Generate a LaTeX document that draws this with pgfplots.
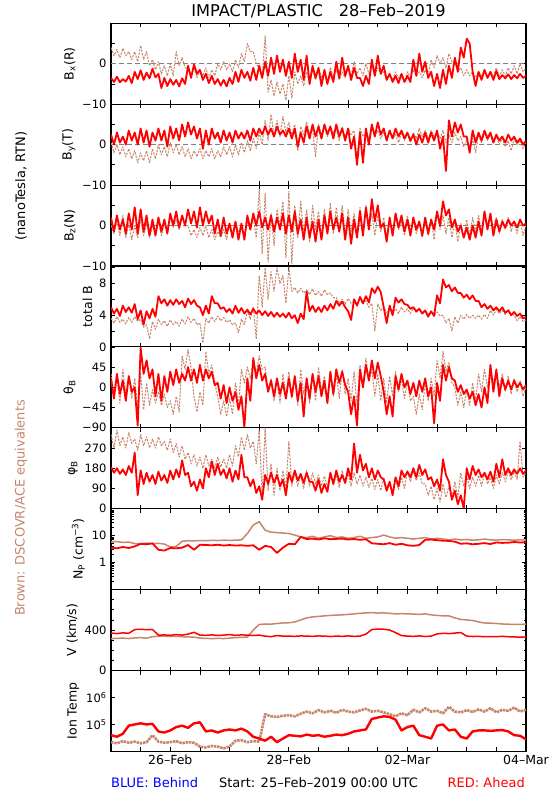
\documentclass[border=0pt]{standalone}
\usepackage{fontspec}
\setmainfont{DejaVu Sans}
\usepackage{pgfplots}
\pgfplotsset{compat=1.18}
\usepackage{pgfplotstable}
\definecolor{brn}{RGB}{198,134,108}
\definecolor{zgray}{RGB}{128,128,128}

\pgfplotstableread{
t r b
0.00 -3.5 4.0
0.05 -4.5 2.0
0.10 -3.2 3.5
0.15 -4.6 1.5
0.20 -3.8 3.8
0.25 -4.4 2.0
0.30 -3.0 3.0
0.35 -4.8 1.0
0.40 -2.0 3.0
0.45 -3.8 0.5
0.50 -1.6 4.5
0.55 -4.0 1.0
0.60 -2.2 3.0
0.65 -3.6 -0.5
0.70 -1.2 1.0
0.75 -3.4 -1.5
0.80 -2.5 0.5
0.85 -6.0 -2.5
0.90 -3.5 -0.5
0.95 -5.5 -3.0
1.00 -3.8 0.0
1.05 -5.2 -3.0
1.10 -4.0 3.0
1.15 -5.6 -0.5
1.20 -3.6 1.5
1.25 -5.0 -1.0
1.30 -0.5 -1.0
1.35 -3.5 -3.0
1.40 -0.2 -1.0
1.45 -2.5 -3.5
1.50 -1.5 -1.5
1.55 -4.0 -3.0
1.60 -2.5 -1.0
1.65 -4.8 -3.5
1.70 -3.0 -1.5
1.75 -5.0 -3.0
1.80 -3.8 0.0
1.85 -5.4 -1.5
1.90 -4.0 0.5
1.95 -5.6 -1.5
2.00 -3.5 0.0
2.05 -5.0 -2.0
2.10 -2.0 1.0
2.15 -4.5 -1.0
2.20 -1.5 2.5
2.25 -3.5 0.5
2.30 -2.0 5.0
2.35 -4.2 3.0
2.40 -1.0 3.0
2.45 -4.0 0.0
2.50 -0.5 -1.0
2.55 -3.5 -3.5
2.60 0.5 7.0
2.65 -3.0 -7.0
2.70 1.5 -4.0
2.75 -2.5 -8.0
2.80 2.0 -4.5
2.85 -2.0 -7.5
2.90 1.0 -5.0
2.95 -3.0 -9.0
3.00 0.5 -3.0
3.05 -3.5 -8.5
3.10 2.5 -2.0
3.15 -2.0 -5.0
3.20 1.0 -3.0
3.25 -4.0 -5.5
3.30 2.0 -2.0
3.35 -5.0 -5.0
3.40 -0.5 -1.5
3.45 -3.5 -4.0
3.50 -1.0 -1.0
3.55 -5.5 -3.5
3.60 -1.5 -2.0
3.65 -5.0 -4.5
3.70 -2.0 -1.0
3.75 -4.5 -3.0
3.80 0.5 -1.5
3.85 -3.5 -4.0
3.90 1.5 -2.0
3.95 -3.0 -3.5
4.00 -0.5 -0.5
4.05 -4.0 -3.0
4.10 -1.0 0.5
4.15 -3.5 -2.5
4.20 -3.5 -1.0
4.25 -5.5 -3.0
4.30 -3.0 0.0
4.35 -5.0 -2.5
4.40 1.0 -0.5
4.45 -3.0 -3.0
4.50 2.0 -1.0
4.55 -2.5 -2.5
4.60 -0.5 -2.0
4.65 -4.0 -4.0
4.70 -2.5 -2.5
4.75 -4.5 -4.0
4.80 -3.0 -2.0
4.85 -4.8 -3.5
4.90 -2.5 -2.5
4.95 -4.5 -4.5
5.00 -3.0 -2.0
5.05 -4.5 -3.5
5.10 1.0 -1.5
5.15 -3.0 -3.0
5.20 2.5 -2.0
5.25 -2.0 -3.5
5.30 0.5 -1.5
5.35 -3.5 -3.0
5.40 -2.0 1.0
5.45 -5.5 -1.0
5.50 -2.5 2.0
5.55 -6.0 0.0
5.60 -1.5 1.5
5.65 -5.0 -1.0
5.70 -0.5 2.5
5.75 -3.5 0.5
5.80 1.5 0.5
5.85 -2.0 -2.0
5.90 4.0 -1.0
5.95 1.5 -3.0
6.00 6.2 -1.5
6.05 5.0 -3.0
6.10 -2.0 -2.0
6.15 -5.5 -3.5
6.20 -2.0 -2.0
6.25 -4.0 -3.0
6.30 -1.5 -1.5
6.35 -3.5 -3.5
6.40 -2.0 -2.0
6.45 -4.0 -3.0
6.50 -1.8 -1.0
6.55 -3.8 -3.0
6.60 -2.8 -1.5
6.65 -3.6 -3.0
6.70 -2.6 -1.0
6.75 -3.8 -2.5
6.80 -2.8 -0.5
6.85 -3.6 -2.5
6.90 -2.5 0.0
6.95 -3.5 -2.0
7.00 -3.0 -1.0
}\tBx

\pgfplotstableread{
t r b
0.00 2.5 0.5
0.05 0.0 -2.0
0.10 3.0 0.0
0.15 0.5 -2.5
0.20 2.0 -0.5
0.25 0.0 -3.0
0.30 3.5 -1.0
0.35 1.0 -3.5
0.40 3.0 -1.5
0.45 0.0 -4.5
0.50 4.0 -2.0
0.55 0.5 -4.0
0.60 3.5 -1.5
0.65 -0.5 -4.5
0.70 3.0 -1.0
0.75 1.0 -3.5
0.80 4.0 0.0
0.85 1.0 -2.5
0.90 3.5 -0.5
0.95 -0.5 -3.0
1.00 4.5 0.5
1.05 1.5 -2.0
1.10 4.0 0.0
1.15 1.0 -2.5
1.20 5.0 -0.5
1.25 2.0 -3.0
1.30 5.5 -1.0
1.35 2.5 -3.5
1.40 4.5 -1.5
1.45 1.5 -3.0
1.50 4.0 -1.0
1.55 -1.0 -3.5
1.60 3.5 -1.5
1.65 0.0 -3.0
1.70 4.0 -1.0
1.75 1.5 -3.5
1.80 3.0 -1.5
1.85 0.5 -3.0
1.90 3.5 -0.5
1.95 1.0 -2.5
2.00 3.0 -0.5
2.05 0.5 -3.0
2.10 3.5 0.0
2.15 1.5 -2.5
2.20 3.0 0.5
2.25 1.5 -2.0
2.30 3.5 1.0
2.35 1.0 -1.5
2.40 4.0 1.5
2.45 2.0 -1.0
2.50 4.0 3.0
2.55 2.5 0.0
2.60 4.5 6.0
2.65 2.5 1.0
2.70 4.0 7.5
2.75 2.0 2.0
2.80 4.5 6.0
2.85 2.5 2.0
2.90 3.5 7.0
2.95 2.0 3.0
3.00 4.0 5.5
3.05 1.5 2.5
3.10 4.0 5.0
3.15 -0.5 -1.5
3.20 3.0 4.5
3.25 0.5 2.5
3.30 4.5 5.5
3.35 1.5 3.0
3.40 5.0 4.0
3.45 2.0 -3.0
3.50 4.5 5.0
3.55 1.5 2.5
3.60 5.0 4.5
3.65 2.5 2.0
3.70 4.5 4.5
3.75 1.5 3.0
3.80 5.0 3.5
3.85 2.0 1.0
3.90 4.0 4.5
3.95 1.0 2.0
4.00 4.0 4.0
4.05 -1.0 2.5
4.10 2.0 3.5
4.15 -5.0 -3.5
4.20 3.0 4.0
4.25 -4.5 2.0
4.30 4.0 3.0
4.35 0.0 1.5
4.40 5.0 4.5
4.45 2.0 2.0
4.50 5.5 3.5
4.55 2.5 1.5
4.60 4.0 3.0
4.65 1.0 1.0
4.70 3.5 3.5
4.75 1.5 1.5
4.80 4.0 2.5
4.85 2.0 0.5
4.90 3.5 3.0
4.95 1.5 1.0
5.00 3.0 2.5
5.05 1.0 0.5
5.10 2.5 3.0
5.15 0.0 1.5
5.20 2.5 4.0
5.25 0.5 2.0
5.30 3.0 3.5
5.35 0.5 1.5
5.40 3.0 3.5
5.45 1.0 2.0
5.50 3.5 3.0
5.55 -1.0 1.5
5.60 2.0 3.5
5.65 -6.5 0.5
5.70 6.0 2.5
5.75 2.0 0.5
5.80 5.5 3.0
5.85 3.0 1.0
5.90 5.0 2.0
5.95 2.0 -0.5
6.00 2.0 1.0
6.05 -2.0 -1.5
6.10 3.5 1.5
6.15 0.5 -2.0
6.20 3.0 2.5
6.25 1.0 0.5
6.30 3.5 3.0
6.35 1.5 1.0
6.40 3.0 2.5
6.45 0.5 0.5
6.50 2.5 2.0
6.55 1.0 0.0
6.60 2.0 1.5
6.65 0.5 -0.5
6.70 2.5 1.0
6.75 1.0 -1.5
6.80 2.0 1.5
6.85 0.5 0.0
6.90 1.5 1.0
6.95 0.0 -1.0
7.00 1.0 0.5
}\tBy

\pgfplotstableread{
t r b
0.00 2.0 0.0
0.05 -1.5 -2.0
0.10 2.5 1.0
0.15 -1.0 -2.5
0.20 1.5 2.5
0.25 -2.0 -3.0
0.30 3.0 0.5
0.35 -1.0 -3.5
0.40 4.5 0.0
0.45 -2.0 -3.0
0.50 4.0 1.5
0.55 -1.5 -2.5
0.60 2.5 0.5
0.65 -2.5 -3.0
0.70 1.5 0.0
0.75 -2.5 -2.0
0.80 2.0 1.0
0.85 -1.5 -2.5
0.90 1.5 0.5
0.95 -2.0 -1.5
1.00 3.0 2.0
1.05 0.0 -0.5
1.10 3.5 1.5
1.15 -0.5 -1.0
1.20 2.5 2.0
1.25 0.0 0.0
1.30 4.0 0.0
1.35 0.5 -2.5
1.40 3.5 -1.0
1.45 -0.5 -3.0
1.50 4.5 -0.5
1.55 0.0 -2.5
1.60 3.5 0.0
1.65 0.5 -3.0
1.70 2.5 -1.0
1.75 -2.0 -3.5
1.80 1.5 -1.5
1.85 -2.5 -3.0
1.90 2.0 -1.0
1.95 -2.0 -3.5
2.00 0.5 0.5
2.05 -3.0 -2.0
2.10 1.0 1.0
2.15 -3.5 -1.5
2.20 0.5 0.0
2.25 -3.5 -2.5
2.30 2.5 1.0
2.35 -1.0 -1.0
2.40 3.0 2.0
2.45 0.0 -3.0
2.50 3.5 9.0
2.55 -0.5 -7.0
2.60 2.0 8.0
2.65 -1.0 -9.0
2.70 2.5 3.0
2.75 -1.5 -5.0
2.80 2.0 4.0
2.85 -1.0 0.0
2.90 3.0 6.0
2.95 -2.0 -8.0
3.00 2.5 8.5
3.05 -1.5 -9.5
3.10 3.5 5.0
3.15 -2.0 -3.0
3.20 1.5 6.0
3.25 -3.5 -2.0
3.30 2.0 4.0
3.35 -3.0 -4.0
3.40 1.0 5.0
3.45 -4.0 -1.0
3.50 1.5 3.5
3.55 -3.5 -3.0
3.60 2.5 4.0
3.65 -2.0 -1.5
3.70 3.5 5.5
3.75 -1.0 -2.0
3.80 2.0 4.5
3.85 -1.5 -1.0
3.90 3.0 5.0
3.95 -3.5 -3.0
4.00 2.0 4.0
4.05 -4.5 -1.5
4.10 1.5 3.0
4.15 -3.0 -2.0
4.20 3.5 4.5
4.25 -2.5 -1.5
4.30 4.5 5.0
4.35 -1.0 -0.5
4.40 6.5 3.0
4.45 1.0 -2.5
4.50 5.0 2.5
4.55 -0.5 -1.5
4.60 0.5 2.0
4.65 -4.0 -3.0
4.70 2.0 1.5
4.75 -2.5 -2.0
4.80 3.0 2.0
4.85 -0.5 -1.0
4.90 2.5 1.0
4.95 -1.5 -2.5
5.00 1.5 2.5
5.05 -2.5 -1.5
5.10 2.0 1.0
5.15 -1.0 -2.0
5.20 1.0 0.5
5.25 -2.5 -3.0
5.30 2.0 1.0
5.35 -2.0 -2.5
5.40 1.5 1.5
5.45 -1.0 -3.5
5.50 3.5 3.0
5.55 0.0 -1.0
5.60 6.0 2.5
5.65 2.5 -2.0
5.70 4.0 2.0
5.75 -0.5 -3.0
5.80 1.5 1.0
5.85 -1.5 -4.0
5.90 0.0 0.5
5.95 -3.0 -3.0
6.00 -0.5 1.5
6.05 -3.5 -2.5
6.10 0.0 2.0
6.15 -3.0 -1.5
6.20 1.0 2.5
6.25 -2.5 -2.0
6.30 3.5 3.0
6.35 -1.0 -1.0
6.40 3.0 2.5
6.45 -2.5 -0.5
6.50 1.5 2.0
6.55 -1.5 -2.0
6.60 1.0 1.5
6.65 -0.5 -1.0
6.70 1.5 2.0
6.75 0.0 -1.5
6.80 1.0 1.0
6.85 -0.5 -2.0
6.90 1.5 1.5
6.95 0.0 -2.5
7.00 0.5 0.0
}\tBz

\pgfplotstableread{
t r b
0.00 5.0 3.6
0.05 4.2 3.0
0.10 4.8 3.8
0.15 3.9 3.1
0.20 5.2 3.5
0.25 4.4 2.9
0.30 5.0 3.7
0.35 4.3 3.1
0.40 5.4 3.8
0.45 3.5 3.2
0.50 4.6 3.5
0.55 2.8 2.5
0.60 4.5 2.8
0.65 3.6 1.0
0.70 4.8 3.2
0.75 3.8 2.2
0.80 6.4 3.5
0.85 5.5 2.8
0.90 6.0 3.3
0.95 5.2 2.6
1.00 5.9 3.4
1.05 5.3 2.8
1.10 6.0 3.2
1.15 5.4 2.6
1.20 5.8 3.5
1.25 5.0 2.9
1.30 6.1 3.8
1.35 5.4 3.1
1.40 5.9 3.6
1.45 5.2 2.8
1.50 5.0 3.0
1.55 4.0 0.5
1.60 5.2 3.6
1.65 4.2 3.0
1.70 6.4 3.8
1.75 5.5 3.2
1.80 5.5 3.9
1.85 4.8 3.3
1.90 5.0 3.7
1.95 4.4 3.1
2.00 4.8 3.4
2.05 4.2 2.8
2.10 5.2 3.0
2.15 4.3 1.8
2.20 4.9 3.5
2.25 4.2 2.8
2.30 4.7 4.5
2.35 4.1 3.5
2.40 4.8 5.0
2.45 4.2 1.0
2.50 4.6 9.0
2.55 4.0 5.0
2.60 4.5 10.0
2.65 3.9 6.0
2.70 4.4 9.5
2.75 3.8 7.0
2.80 4.3 10.0
2.85 3.8 8.0
2.90 4.2 9.0
2.95 3.7 5.5
3.00 4.3 10.0
3.05 3.6 7.0
3.10 4.0 7.5
3.15 3.0 6.8
3.20 4.2 7.4
3.25 3.5 6.8
3.30 7.0 7.2
3.35 4.5 6.6
3.40 5.2 7.3
3.45 4.4 6.5
3.50 5.0 7.0
3.55 4.4 6.4
3.60 5.2 7.2
3.65 4.6 6.6
3.70 5.4 6.8
3.75 4.8 6.2
3.80 5.8 6.2
3.85 5.2 5.5
3.90 5.7 6.0
3.95 5.0 5.4
4.00 4.5 6.1
4.05 3.4 5.5
4.10 6.0 5.8
4.15 5.2 5.2
4.20 6.3 6.0
4.25 5.5 5.4
4.30 6.4 5.8
4.35 5.6 5.0
4.40 7.4 5.5
4.45 6.8 2.0
4.50 7.6 5.4
4.55 6.9 4.6
4.60 5.0 5.0
4.65 3.0 4.3
4.70 5.2 4.9
4.75 4.0 4.3
4.80 6.2 4.8
4.85 5.6 4.2
4.90 6.0 5.0
4.95 5.4 4.4
5.00 5.3 4.8
5.05 4.8 4.2
5.10 5.0 4.9
5.15 4.5 4.3
5.20 4.8 4.8
5.25 4.2 4.3
5.30 4.6 4.6
5.35 3.8 4.1
5.40 4.5 4.5
5.45 3.9 4.0
5.50 6.5 4.4
5.55 5.5 3.9
5.60 8.5 4.0
5.65 7.5 3.0
5.70 7.8 3.6
5.75 7.0 2.0
5.80 7.5 3.8
5.85 6.8 3.0
5.90 6.8 4.0
5.95 6.2 3.5
6.00 6.6 4.1
6.05 6.0 3.6
6.10 6.5 4.0
6.15 5.8 3.6
6.20 5.8 4.0
6.25 5.0 3.5
6.30 5.4 4.1
6.35 4.8 3.6
6.40 5.2 4.6
6.45 4.6 4.0
6.50 5.0 4.7
6.55 4.5 4.2
6.60 5.0 4.6
6.65 4.3 4.1
6.70 4.6 4.7
6.75 4.0 4.2
6.80 4.4 4.0
6.85 3.9 3.3
6.90 4.2 3.8
6.95 3.6 3.2
7.00 3.8 3.4
}\tBt

\pgfplotstableread{
t r b
0.00 20 30
0.05 -25 -20
0.10 30 20
0.15 -15 -35
0.20 15 40
0.25 -30 -15
0.30 25 25
0.35 -10 -25
0.40 0 20
0.45 -85 -45
0.50 88 30
0.55 30 -50
0.60 60 10
0.65 20 -40
0.70 40 -5
0.75 -20 -35
0.80 30 -10
0.85 -30 -40
0.90 25 -15
0.95 -10 -45
1.00 35 -30
1.05 5 -60
1.10 40 -20
1.15 10 -55
1.20 30 70
1.25 15 40
1.30 45 85
1.35 15 45
1.40 40 -20
1.45 10 -55
1.50 50 -10
1.55 15 -40
1.60 40 80
1.65 20 30
1.70 35 50
1.75 5 10
1.80 10 -20
1.85 -25 -60
1.90 5 -30
1.95 -35 -65
2.00 0 -25
2.05 -30 -60
2.10 -10 10
2.15 -50 -40
2.20 -20 40
2.25 -90 10
2.30 20 45
2.35 -30 20
2.40 65 60
2.45 20 30
2.50 50 70
2.55 15 40
2.60 30 45
2.65 -10 -10
2.70 15 20
2.75 -20 -30
2.80 20 15
2.85 -15 -35
2.90 10 30
2.95 -25 -20
3.00 20 35
3.05 -20 -25
3.10 25 25
3.15 -30 -40
3.20 10 40
3.25 -65 -15
3.30 20 20
3.35 -25 -35
3.40 30 30
3.45 -10 -30
3.50 25 45
3.55 -20 -10
3.60 15 25
3.65 -35 -30
3.70 35 35
3.75 -15 -20
3.80 40 30
3.85 10 -25
3.90 35 40
3.95 5 -15
4.00 -10 20
4.05 -60 -30
4.10 -20 35
4.15 -85 -40
4.20 40 50
4.25 0 0
4.30 50 65
4.35 15 15
4.40 60 40
4.45 20 -20
4.50 55 30
4.55 25 -30
4.60 -10 20
4.65 -60 -35
4.70 -20 25
4.75 -65 -20
4.80 25 35
4.85 -5 -10
4.90 30 20
4.95 0 -25
5.00 15 15
5.05 -15 -30
5.10 10 -20
5.15 -20 -60
5.20 15 -15
5.25 -10 -50
5.30 20 10
5.35 -20 -30
5.40 0 20
5.45 -80 -20
5.50 10 60
5.55 -30 20
5.60 50 80
5.65 15 35
5.70 45 55
5.75 20 10
5.80 15 0
5.85 -10 -40
5.90 5 -10
5.95 -15 -45
6.00 -5 -5
6.05 -25 -40
6.10 -10 10
6.15 -40 -30
6.20 -15 30
6.25 -45 -10
6.30 0 40
6.35 -35 0
6.40 50 45
6.45 -10 10
6.50 40 35
6.55 -20 0
6.60 20 30
6.65 -5 -10
6.70 15 25
6.75 -5 -15
6.80 15 20
6.85 0 -10
6.90 10 15
6.95 -5 -20
7.00 5 0
}\tTh

\pgfplotstableread{
t r b
0.00 185 330
0.05 160 270
0.10 180 350
0.15 155 280
0.20 175 320
0.25 150 270
0.30 190 340
0.35 160 290
0.40 250 310
0.45 60 260
0.50 170 330
0.55 110 280
0.60 160 320
0.65 120 270
0.70 150 310
0.75 110 270
0.80 165 320
0.85 125 280
0.90 150 300
0.95 115 260
1.00 170 310
1.05 130 250
1.10 175 290
1.15 140 230
1.20 215 280
1.25 150 220
1.30 160 250
1.35 100 200
1.40 120 240
1.45 80 190
1.50 130 230
1.55 90 180
1.60 180 240
1.65 140 190
1.70 210 220
1.75 150 180
1.80 200 230
1.85 150 185
1.90 175 220
1.95 135 180
2.00 180 240
2.05 120 190
2.10 170 280
2.15 130 230
2.20 240 320
2.25 140 260
2.30 140 330
2.35 100 270
2.40 130 300
2.45 70 200
2.50 100 350
2.55 40 60
2.60 150 360
2.65 110 80
2.70 160 200
2.75 115 60
2.80 150 180
2.85 100 80
2.90 130 170
2.95 60 90
3.00 160 300
3.05 120 100
3.10 170 160
3.15 125 100
3.20 155 150
3.25 115 90
3.30 160 170
3.35 120 100
3.40 120 160
3.45 80 110
3.50 130 150
3.55 70 100
3.60 110 145
3.65 75 100
3.70 160 160
3.75 110 105
3.80 170 150
3.85 120 95
3.90 150 170
3.95 115 110
4.00 180 155
4.05 130 100
4.10 290 160
4.15 160 110
4.20 240 150
4.25 170 100
4.30 200 140
4.35 140 95
4.40 180 135
4.45 130 85
4.50 170 130
4.55 140 80
4.60 130 140
4.65 80 90
4.70 120 120
4.75 60 70
4.80 140 130
4.85 100 85
4.90 170 140
4.95 140 90
5.00 165 170
5.05 140 120
5.10 180 165
5.15 140 125
5.20 195 160
5.25 150 110
5.30 175 110
5.35 130 60
5.40 140 100
5.45 100 40
5.50 130 90
5.55 80 30
5.60 220 110
5.65 150 50
5.70 120 100
5.75 40 40
5.80 80 120
5.85 20 50
5.90 60 160
5.95 0 100
6.00 180 150
6.05 130 90
6.10 190 140
6.15 150 100
6.20 175 150
6.25 140 100
6.30 160 160
6.35 130 110
6.40 165 140
6.45 120 90
6.50 200 150
6.55 140 110
6.60 220 160
6.65 150 120
6.70 180 170
6.75 150 130
6.80 175 165
6.85 155 130
6.90 180 300
6.95 155 140
7.00 170 160
}\tPh

\pgfplotstableread{
t r b
0.0 3.6 5.9
0.1 3.4 6.0
0.2 3.8 5.6
0.3 3.5 5.8
0.4 4.0 5.1
0.5 5.0 5.0
0.6 4.8 5.3
0.7 5.2 5.0
0.8 3.0 5.2
0.9 2.8 4.9
1.0 3.5 3.8
1.1 3.4 4.0
1.2 3.6 6.2
1.3 4.5 6.5
1.4 3.0 6.4
1.5 4.6 6.6
1.6 4.5 6.5
1.7 4.4 6.7
1.8 4.6 6.6
1.9 4.3 6.8
2.0 4.5 6.7
2.1 4.3 6.8
2.2 4.4 7.0
2.3 4.2 12
2.4 4.4 25
2.5 3.0 33
2.6 4.2 16
2.7 3.8 13.5
2.8 2.3 13
2.9 3.6 12.5
3.0 5.0 12
3.1 4.8 10.5
3.2 9.0 9.0
3.3 7.5 8.5
3.4 7.8 9.5
3.5 7.2 8.0
3.6 8.0 9.0
3.7 7.4 10.0
3.8 7.6 8.5
3.9 7.8 9.0
4.0 7.2 8.0
4.1 7.5 8.5
4.2 7.0 9.5
4.3 7.4 8.0
4.4 5.2 8.5
4.5 5.0 9.0
4.6 4.8 10.5
4.7 5.3 9.0
4.8 4.6 8.0
4.9 5.0 8.5
5.0 4.4 8.0
5.1 4.2 7.5
5.2 4.5 8.0
5.3 7.0 8.5
5.4 7.2 7.5
5.5 6.8 8.0
5.6 6.5 7.5
5.7 6.4 7.0
5.8 6.0 7.5
5.9 5.0 7.0
6.0 5.2 7.2
6.1 4.8 6.8
6.2 5.0 7.0
6.3 5.3 7.5
6.4 4.9 7.0
6.5 5.6 6.8
6.6 5.4 7.2
6.7 5.5 7.0
6.8 5.8 6.8
6.9 5.6 7.0
7.0 5.7 7.0
}\tNp

\pgfplotstableread{
t r b
0.0 370 315
0.1 365 318
0.2 372 320
0.3 368 316
0.4 405 322
0.5 408 325
0.6 404 320
0.7 406 335
0.8 350 338
0.9 352 340
1.0 348 336
1.1 355 338
1.2 350 334
1.3 360 332
1.4 378 330
1.5 350 320
1.6 348 318
1.7 352 315
1.8 346 318
1.9 350 316
2.0 355 320
2.1 348 325
2.2 352 328
2.3 350 330
2.4 346 400
2.5 350 455
2.6 340 460
2.7 335 458
2.8 345 465
2.9 340 470
3.0 340 472
3.1 338 480
3.2 342 500
3.3 340 520
3.4 338 530
3.5 342 535
3.6 340 540
3.7 336 545
3.8 340 548
3.9 338 550
4.0 342 555
4.1 338 560
4.2 340 565
4.3 360 570
4.4 405 572
4.5 410 568
4.6 408 570
4.7 400 565
4.8 375 560
4.9 345 562
5.0 340 560
5.1 338 558
5.2 342 555
5.3 336 560
5.4 340 550
5.5 362 545
5.6 368 540
5.7 365 540
5.8 370 520
5.9 375 505
6.0 340 500
6.1 336 495
6.2 338 480
6.3 334 470
6.4 336 468
6.5 335 465
6.6 338 460
6.7 334 458
6.8 332 455
6.9 330 455
7.0 330 460
}\tV

\pgfplotstableread{
t r b
0.0 4.0e4 2.2e4
0.1 3.5e4 2.0e4
0.2 4.5e4 2.4e4
0.3 9.0e4 2.1e4
0.4 1.0e5 2.3e4
0.5 1.1e5 2.0e4
0.6 1.0e5 2.2e4
0.7 1.05e5 4.0e4
0.8 5.5e4 2.3e4
0.9 5.0e4 2.1e4
1.0 6.0e4 2.2e4
1.1 8.0e4 2.4e4
1.2 9.0e4 2.0e4
1.3 7.5e4 2.2e4
1.4 1.1e5 2.1e4
1.5 1.2e5 1.5e4
1.6 5.5e4 1.4e4
1.7 6.0e4 1.6e4
1.8 5.0e4 1.5e4
1.9 6.0e4 1.3e4
2.0 6.5e4 1.5e4
2.1 6.0e4 2.5e4
2.2 7.0e4 2.6e4
2.3 5.5e4 2.2e4
2.4 3.5e4 2.4e4
2.5 3.0e4 2.3e4
2.6 2.5e4 2.4e5
2.7 3.5e4 2.0e5
2.8 2.2e4 1.9e5
2.9 3.0e4 2.1e5
3.0 4.0e4 2.2e5
3.1 3.8e4 2.0e5
3.2 3.6e4 2.5e5
3.3 4.2e4 3.0e5
3.4 3.8e4 2.6e5
3.5 4.0e4 3.4e5
3.6 3.5e4 2.8e5
3.7 3.8e4 3.2e5
3.8 4.2e4 2.7e5
3.9 4.0e4 3.5e5
4.0 4.5e4 3.0e5
4.1 5.5e4 2.8e5
4.2 6.0e4 3.3e5
4.3 6.5e4 3.8e5
4.4 1.6e5 3.0e5
4.5 1.8e5 3.2e5
4.6 2.0e5 2.8e5
4.7 1.9e5 2.4e5
4.8 1.5e5 2.0e5
4.9 6.0e4 2.6e5
5.0 8.0e4 2.2e5
5.1 9.0e4 3.5e5
5.2 4.0e4 2.8e5
5.3 3.5e4 4.0e5
5.4 3.0e4 3.0e5
5.5 9.0e4 3.2e5
5.6 1.0e5 2.6e5
5.7 6.0e4 4.5e5
5.8 6.5e4 3.0e5
5.9 3.5e4 2.8e5
6.0 3.0e4 3.4e5
6.1 5.5e4 2.9e5
6.2 6.0e4 3.6e5
6.3 6.0e4 3.0e5
6.4 5.8e4 4.0e5
6.5 6.0e4 2.8e5
6.6 6.2e4 3.5e5
6.7 5.5e4 3.2e5
6.8 4.0e4 4.2e5
6.9 3.8e4 3.0e5
7.0 2.8e4 3.5e5
}\tT

\pgfplotsset{
  panel/.style={
    scale only axis, width=415pt, height=80.9pt,
    anchor=north west,
    xmin=0, xmax=7,
    xtick={0,0.5,...,7},
    xticklabels={},
    tick align=inside,
    major tick length=4pt,
    minor tick length=2.5pt,
    axis line style={line width=1.1pt},
    every tick/.append style={line width=0.8pt, black},
    yticklabel style={font=\fontsize{11.5}{13}\selectfont, xshift=-1pt},
    xticklabel style={font=\fontsize{12.5}{14}\selectfont},
    ylabel style={font=\fontsize{12.5}{14}\selectfont, xshift=0pt},
    clip=true,
  },
  redl/.style={color=red, line width=1.8pt, line join=round},
  brnl/.style={color=brn, line width=1.0pt, line join=round, dash pattern=on 2.2pt off 1.2pt},
  zerol/.style={color=zgray, dash pattern=on 5pt off 3pt, line width=0.7pt},
}

\begin{document}
\begin{tikzpicture}
\useasboundingbox (0pt,0pt) rectangle (550pt,-800pt);

\begin{axis}[panel, at={(111pt,-23.3pt)}, ymin=-10, ymax=10,
  ytick={-10,-5,0,5,10}, yticklabels={−10,,0,,}, ylabel={B\textsubscript{x}(R)}]
\addplot[zerol] coordinates {(0,0) (7,0)};
\addplot[brnl] table[x=t,y=b]{\tBx};
\addplot[redl] table[x=t,y=r]{\tBx};
\end{axis}

\begin{axis}[panel, at={(111pt,-104.2pt)}, ymin=-10, ymax=10,
  ytick={-10,-5,0,5,10}, yticklabels={−10,,0,,}, ylabel={B\textsubscript{y}(T)}]
\addplot[zerol] coordinates {(0,0) (7,0)};
\addplot[brnl] table[x=t,y=b]{\tBy};
\addplot[redl] table[x=t,y=r]{\tBy};
\end{axis}

\begin{axis}[panel, at={(111pt,-185.1pt)}, ymin=-10, ymax=10,
  ytick={-10,-5,0,5,10}, yticklabels={−10,,0,,}, ylabel={B\textsubscript{z}(N)}]
\addplot[zerol] coordinates {(0,0) (7,0)};
\addplot[brnl] table[x=t,y=b]{\tBz};
\addplot[redl] table[x=t,y=r]{\tBz};
\end{axis}

\begin{axis}[panel, at={(111pt,-266.0pt)}, ymin=0, ymax=10.2,
  ytick={0,2,4,6,8,10}, yticklabels={0,,4,,8,}, ylabel={total B}]
\addplot[brnl] table[x=t,y=b]{\tBt};
\addplot[redl] table[x=t,y=r]{\tBt};
\end{axis}

\begin{axis}[panel, at={(111pt,-346.9pt)}, ymin=-90, ymax=90,
  ytick={-90,-45,0,45,90}, yticklabels={−90,−45,0,45,}, ylabel={θ\textsubscript{B}}]
\addplot[brnl] table[x=t,y=b]{\tTh};
\addplot[redl] table[x=t,y=r]{\tTh};
\end{axis}

\begin{axis}[panel, at={(111pt,-427.8pt)}, ymin=0, ymax=360,
  ytick={0,90,180,270,360}, yticklabels={0,90,180,270,}, ylabel={φ\textsubscript{B}}]
\addplot[brnl] table[x=t,y=b]{\tPh};
\addplot[redl] table[x=t,y=r]{\tPh};
\end{axis}

\begin{axis}[panel, at={(111pt,-508.7pt)}, ymode=log, ymin=0.1, ymax=100,
  ytick={0.1,1,10,100}, yticklabels={,1,10,},
  minor ytick={0.2,0.3,0.4,0.5,0.6,0.7,0.8,0.9,2,3,4,5,6,7,8,9,20,30,40,50,60,70,80,90},
  ylabel={N\textsubscript{P} (cm\textsuperscript{−3})}]
\addplot[color=brn, line width=1.5pt, line join=round] table[x=t,y=b]{\tNp};
\addplot[redl, line width=1.8pt] table[x=t,y=r]{\tNp};
\end{axis}

\begin{axis}[panel, at={(111pt,-589.6pt)}, ymin=0, ymax=800,
  ytick={0,400,800}, yticklabels={0,400,},
  minor ytick={100,200,300,500,600,700},
  ylabel={V (km/s)}]
\addplot[color=brn, line width=1.5pt, line join=round] table[x=t,y=b]{\tV};
\addplot[redl, line width=1.5pt] table[x=t,y=r]{\tV};
\end{axis}

\begin{axis}[panel, at={(111pt,-670.5pt)}, ymode=log, ymin=1e4, ymax=1e7,
  ytick={1e4,1e5,1e6,1e7}, yticklabels={,10\textsuperscript{5},10\textsuperscript{6},},
  yminorticks=false,
  xticklabels={,,26–Feb,,,,28–Feb,,,,02–Mar,,,,04–Mar},
  ylabel={Ion Temp}]
\addplot[color=brn, line width=2.6pt, line join=round, dash pattern=on 2.5pt off 0.8pt] table[x=t,y=b]{\tT};
\addplot[redl, line width=2.4pt] table[x=t,y=r]{\tT};
\end{axis}

\node[rotate=90, font=\fontsize{13}{15}\selectfont] at (21pt,-186pt) {(nanoTesla, RTN)};
\node[rotate=90, text=brn, font=\fontsize{13}{15}\selectfont] at (21pt,-508pt) {Brown: DSCOVR/ACE equivalents};
\node[font=\fontsize{16.2}{19}\selectfont] at (318.5pt,-11.5pt) {IMPACT/PLASTIC\hspace{16pt}28–Feb–2019};
\node[anchor=base west, inner sep=0pt, text=blue, font=\fontsize{13}{15}\selectfont] at (111pt,-787pt) {BLUE: Behind};
\node[anchor=base, inner sep=0pt, font=\fontsize{13}{15}\selectfont] at (318.5pt,-787pt) {Start: 25–Feb–2019 00:00 UTC};
\node[anchor=base east, inner sep=0pt, text=red, font=\fontsize{13}{15}\selectfont] at (525pt,-787pt) {RED: Ahead};
\end{tikzpicture}
\end{document}
